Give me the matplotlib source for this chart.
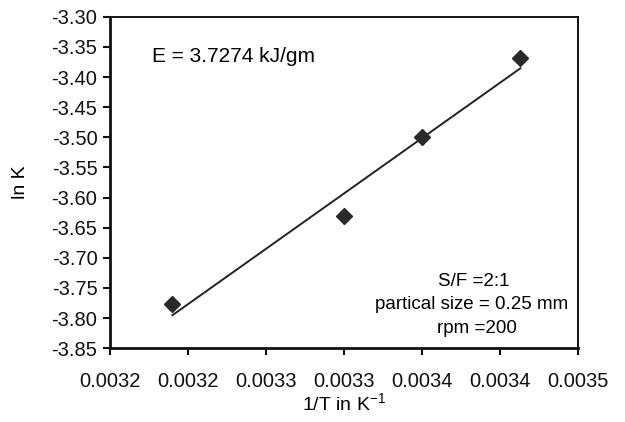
import matplotlib
matplotlib.use("Agg")
import matplotlib.pyplot as plt
import numpy as np

plt.rcParams['font.family'] = ['Liberation Sans', 'DejaVu Sans']

inv_T = [0.00319, 0.00330, 0.003350, 0.003413]
ln_K = [-3.777, -3.630, -3.500, -3.368]

x_ticks = [0.00315, 0.00320, 0.00325, 0.00330, 0.00335, 0.00340, 0.00345]
x_tick_labels = ["0.0032", "0.0032", "0.0033", "0.0033", "0.0034", "0.0034", "0.0035"]
y_ticks = [-3.30, -3.35, -3.40, -3.45, -3.50, -3.55, -3.60, -3.65, -3.70, -3.75, -3.80, -3.85]

fig = plt.figure(figsize=(6.25, 4.22), dpi=100)
ax = fig.add_axes([0.176, 0.175, 0.749, 0.785])

x = np.array(inv_T)
y = np.array(ln_K)
m, b = np.polyfit(x, y, 1)
xl = np.array([x.min(), x.max()])
ax.plot(xl, m * xl + b, color='#222222', lw=1.4, zorder=2)
ax.plot(x, y, linestyle='none', marker='D', markersize=8.5, color='#2a2a2a', zorder=3)

ax.set_xlim(0.00315, 0.00345)
ax.set_ylim(-3.85, -3.30)
ax.set_xticks(x_ticks)
ax.set_xticklabels(x_tick_labels)
ax.set_yticks(y_ticks)
ax.set_yticklabels([f"{v:.2f}" for v in y_ticks])
ax.tick_params(axis='both', direction='out', length=5, width=1.5, labelsize=14.5, colors='#111111')
ax.tick_params(axis='x', pad=12)
ax.tick_params(axis='y', pad=4)
for s in ['left', 'bottom']:
    ax.spines[s].set_linewidth(2.0)
for s in ['top', 'right']:
    ax.spines[s].set_linewidth(1.4)
for s in ax.spines.values():
    s.set_color('#111111')

ax.set_xlabel("1/T in K$^{\\mathregular{-1}}$", fontsize=14, labelpad=1)
ax.set_ylabel("ln K", fontsize=14, labelpad=16)

ax.text(0.003177, -3.365, "E = 3.7274 kJ/gm", fontsize=15, va='center', ha='left')
ax.text(0.003383, -3.740, "S/F =2:1", fontsize=13.5, ha='center', va='center')
ax.text(0.003382, -3.778, "partical size = 0.25 mm", fontsize=13.5, ha='center', va='center')
ax.text(0.003385, -3.817, "rpm =200", fontsize=13.5, ha='center', va='center')

fig.savefig("out.png", dpi=100)
